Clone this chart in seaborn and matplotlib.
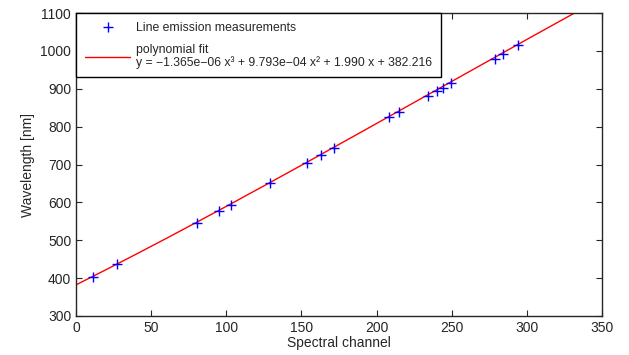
import numpy as np
import pandas as pd
import matplotlib
matplotlib.use("Agg")
import matplotlib.pyplot as plt
import seaborn as sns

# measured emission lines (channel, wavelength)
channels = [11.3, 27.0, 80.3, 95.4, 102.9, 129.3, 153.5, 162.8, 171.9,
            208.3, 214.7, 234.2, 240.2, 244.0, 249.3, 278.6, 284.3, 294.0]
wavelengths = [404, 436, 545, 578, 594, 651, 703, 725, 744,
               825, 839, 880, 894, 902, 915, 979, 991, 1015]

# fit coefficients as printed in the legend (highest order first)
coeffs = [-1.365e-06, 9.793e-04, 1.990, 382.216]

sns.set_style("ticks")
plt.rcParams['font.family'] = ['Liberation Sans', 'DejaVu Sans']
plt.rcParams['xtick.direction'] = 'in'
plt.rcParams['ytick.direction'] = 'in'

df = pd.DataFrame({"channel": channels, "wavelength": wavelengths})
xfit = np.linspace(0, 350, 200)
fit = pd.DataFrame({"channel": xfit, "wavelength": np.polyval(coeffs, xfit)})

fig = plt.figure(figsize=(6.29, 3.55), dpi=100)
ax = fig.add_axes([0.121, 0.110, 0.836, 0.853])

sns.scatterplot(data=df, x="channel", y="wavelength", marker="+", color="#0000ff",
                s=60, linewidth=1, ax=ax, label="Line emission measurements", zorder=3)
sns.lineplot(data=fit, x="channel", y="wavelength", color="red", linewidth=1, ax=ax,
             label="polynomial fit\ny = \u22121.365e\u221206 x\u00b3 + 9.793e\u221204 x\u00b2 + 1.990 x + 382.216")

ax.set_xlim(0, 350)
ax.set_ylim(300, 1100)
ax.set_xticks(range(0, 351, 50))
ax.set_yticks(range(300, 1101, 100))
ax.tick_params(top=True, right=True, labelsize=10, length=4, width=0.8)
ax.set_xlabel("Spectral channel", fontsize=10, labelpad=1)
ax.set_ylabel("Wavelength [nm]", fontsize=10)
for s in ax.spines.values():
    s.set_linewidth(1)

leg = ax.legend(loc="upper left", fontsize=8.8, frameon=True, fancybox=False,
                edgecolor="black", framealpha=1, borderaxespad=0, handlelength=3.75,
                handletextpad=0.45, borderpad=0.7, labelspacing=0.85)
leg.get_frame().set_linewidth(1)
for t in leg.get_texts():
    t.set_linespacing(1.0)

fig.savefig("out.png", dpi=100)
